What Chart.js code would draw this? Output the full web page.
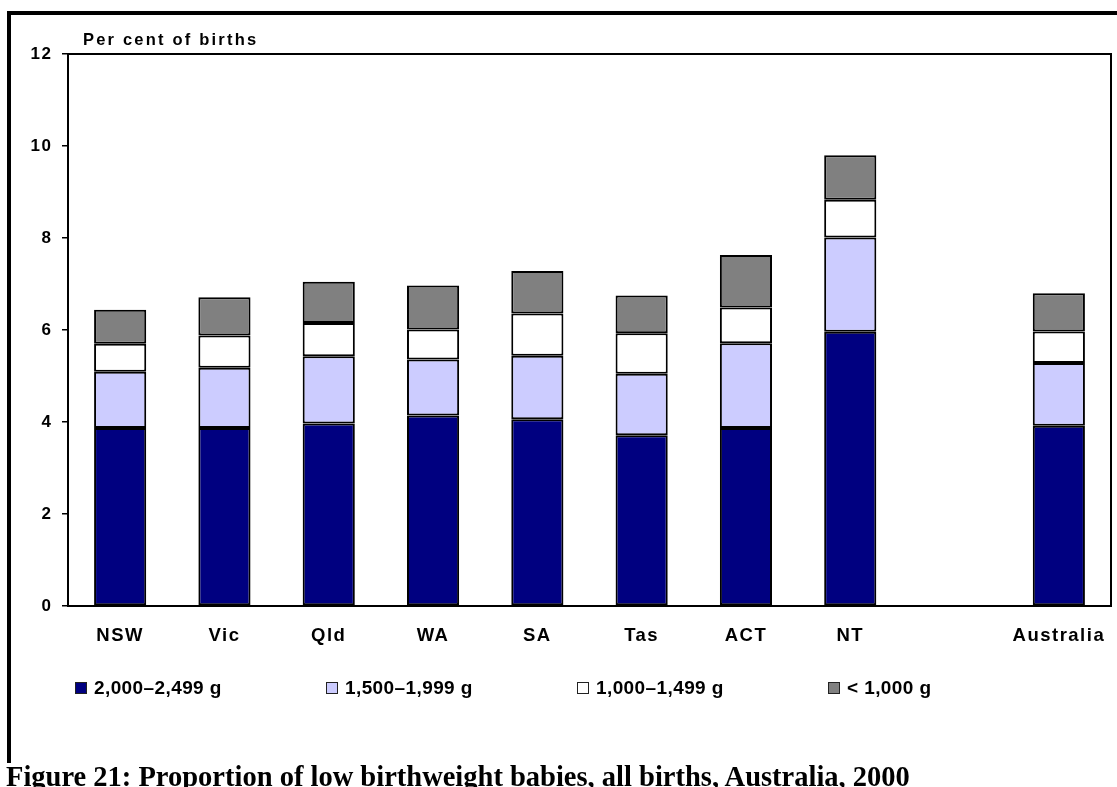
<!DOCTYPE html>
<html>
<head>
<meta charset="utf-8">
<title>Low birthweight babies, Australia, 2000</title>
<script src="https://cdn.jsdelivr.net/npm/chart.js@4.4.0/dist/chart.umd.min.js"></script>
<style>
  html, body { margin: 0; padding: 0; background: #fff; }
  body { width: 1117px; height: 787px; position: relative; overflow: hidden; font-family: "Liberation Sans", Arial, sans-serif; }
  #frame { position: absolute; left: 7px; top: 11px; width: 1200px; height: 748px; border-left: 4px solid #000; border-top: 4px solid #000; }
  #chart { position: absolute; left: 0; top: 0; }
  #legend { position: absolute; left: 75px; top: 677px; display: flex; }
  #legend .item { width: 251px; display: flex; align-items: center; font-weight: bold; font-size: 19px; letter-spacing: 0.4px; color: #000; }
  #legend .box { width: 10px; height: 10px; border: 1.5px solid #222; margin-right: 7px; }
  #caption { position: absolute; left: 6px; top: 763px; font: bold 28.5px/1 "Liberation Serif", "Times New Roman", serif; white-space: nowrap; color: #000; }
</style>
</head>
<body>
<div id="frame"></div>
<canvas id="chart" width="1117" height="787"></canvas>
<div id="legend"></div>
<div id="caption">Figure 21: Proportion of low birthweight babies, all births, Australia, 2000</div>
<script>
// Danh mục (ô trống giữa NT và Australia là khoảng cách)
const categories = ['NSW', 'Vic', 'Qld', 'WA', 'SA', 'Tas', 'ACT', 'NT', '', 'Australia'];

// Phần trăm theo nhóm cân nặng
const g2000to2499 = [3.87, 3.87, 3.97, 4.14, 4.06, 3.71, 3.87, 5.96, null, 3.92];
const g1500to1999 = [1.22, 1.31, 1.46, 1.22, 1.38, 1.34, 1.84, 2.05, null, 1.36];
const g1000to1499 = [0.61, 0.70, 0.72, 0.65, 0.92, 0.88, 0.78, 0.82, null, 0.69];
const gUnder1000  = [0.74, 0.83, 0.90, 0.96, 0.92, 0.82, 1.14, 0.97, null, 0.83];

const seriesLabels = ['2,000–2,499 g', '1,500–1,999 g', '1,000–1,499 g', '< 1,000 g'];
const seriesColours = ['#000080', '#CCCCFF', '#FFFFFF', '#808080'];
const yTicks = [0, 2, 4, 6, 8, 10, 12];
const yTitle = 'Per cent of births';

const FONT = '"Liberation Sans", Arial, sans-serif';

// Khung vùng vẽ + tiêu đề trục y
const plotFrame = {
    id: 'plotFrame',
    beforeDraw(chart) {
        chart.ctx.letterSpacing = '1.5px';  // chữ trên trục hơi giãn như bản gốc
    },
    afterDraw(chart) {
        const { ctx, chartArea: a } = chart;
        ctx.save();
        ctx.letterSpacing = '0px';
        ctx.strokeStyle = '#000';
        ctx.lineWidth = 2;
        ctx.strokeRect(a.left, a.top, a.right - a.left, a.bottom - a.top);
        ctx.letterSpacing = '2.2px';
        ctx.font = 'bold 16.5px ' + FONT;
        ctx.fillStyle = '#000';
        ctx.textAlign = 'left';
        ctx.textBaseline = 'alphabetic';
        ctx.fillText(yTitle, a.left + 15, a.top - 9);
        ctx.restore();
        ctx.letterSpacing = '0px';
    }
};

const seriesData = [g2000to2499, g1500to1999, g1000to1499, gUnder1000];
const datasets = seriesData.map((values, i) => ({
    label: seriesLabels[i],
    data: values,
    backgroundColor: seriesColours[i],
    borderColor: '#000',
    borderWidth: 2,
    borderSkipped: false
}));

new Chart(document.getElementById('chart'), {
    type: 'bar',
    data: { labels: categories, datasets: datasets },
    options: {
        responsive: false,
        animation: false,
        layout: { padding: { top: 54, right: 6, left: 0, bottom: 0 } },
        datasets: { bar: { categoryPercentage: 1, barPercentage: 0.5 } },
        plugins: { legend: { display: false }, tooltip: { enabled: false } },
        scales: {
            x: {
                stacked: true,
                grid: { display: false },
                border: { display: true, color: '#000', width: 2 },
                ticks: {
                    color: '#000',
                    font: { family: FONT, size: 18.5, weight: 'bold' },
                    padding: 11,
                    autoSkip: false,
                    maxRotation: 0
                },
                afterFit(scale) { scale.height = 181; }
            },
            y: {
                stacked: true,
                min: 0,
                max: 12,
                afterBuildTicks(scale) { scale.ticks = yTicks.map(v => ({ value: v })); },
                grid: { drawOnChartArea: false, drawTicks: true, tickLength: 6, color: '#000', lineWidth: 1.5 },
                border: { display: true, color: '#000', width: 2 },
                ticks: {
                    color: '#000',
                    font: { family: FONT, size: 17, weight: 'bold' },
                    padding: 9.5
                },
                afterFit(scale) { scale.width = 68; }
            }
        }
    },
    plugins: [plotFrame]
});

// Chú giải dựng từ nhãn và màu của các chuỗi
const legend = document.getElementById('legend');
seriesLabels.forEach((label, i) => {
    const item = document.createElement('div');
    item.className = 'item';
    item.innerHTML = `<span class="box" style="background:${seriesColours[i]}"></span><span>${label.replace('<', '&lt;')}</span>`;
    legend.appendChild(item);
});
</script>
</body>
</html>
